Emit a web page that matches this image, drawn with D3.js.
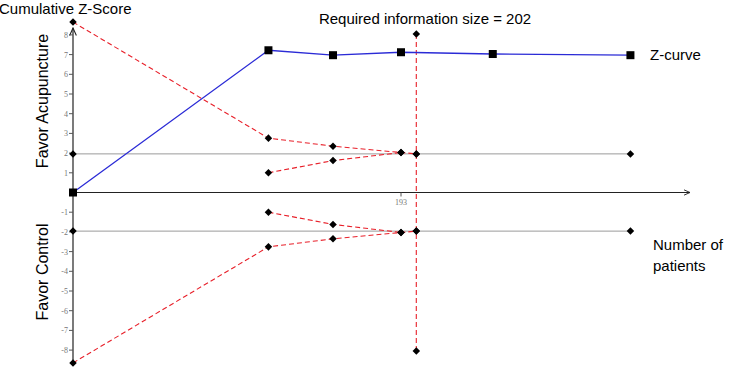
<!DOCTYPE html>
<html>
<head>
<meta charset="utf-8">
<script src="https://cdn.jsdelivr.net/npm/d3@7"></script>
<style>
  body { margin: 0; background: #fff; }
  text { font-family: "Liberation Sans", Arial, sans-serif; }
  .tick-label { font-family: "Liberation Serif", "Times New Roman", serif; font-size: 8px; fill: #777; }
</style>
</head>
<body>
<div id="chart"></div>
<script>
// patients at each look, and the required information size
const patients = [0, 115, 153, 193, 247, 328];
const ris = 202;
const zCurve = [0, 7.22, 6.97, 7.12, 7.03, 6.97];

// O'Brien-Fleming style monitoring boundaries
const boundaryN = [0, 115, 153, 193, 202];
const upperBoundary = [8.65, 2.76, 2.35, 2.03, 1.96];
const futilityN = [115, 153, 193];
const futilityUpper = [1.0, 1.62, 2.03];
const conventionalN = [0, 202, 328];
const conventional = 1.96;
const risTop = 8.05;
const yTicks = [-8, -7, -6, -5, -4, -3, -2, -1, 1, 2, 3, 4, 5, 6, 7, 8];
const xTicks = [193];

const width = 734;
const height = 377;

const svg = d3.select("#chart")
  .append("svg")
  .attr("width", width)
  .attr("height", height);

const x = d3.scaleLinear().domain([0, 193]).range([73, 401]);
const y = d3.scaleLinear().domain([-9, 9]).range([369.8, 15.2]);

const defs = svg.append("defs");
defs.append("marker")
  .attr("id", "arrow")
  .attr("viewBox", "0 0 10 10")
  .attr("refX", 9).attr("refY", 5)
  .attr("markerWidth", 7).attr("markerHeight", 7)
  .attr("orient", "auto")
  .append("path")
  .attr("d", "M0,1 L9,5 L0,9")
  .attr("fill", "none")
  .attr("stroke", "#222")
  .attr("stroke-width", 1.3);

// conventional ±1.96 lines
[conventional, -conventional].forEach(v => {
  svg.append("line")
    .attr("x1", x(0)).attr("x2", x(328))
    .attr("y1", y(v)).attr("y2", y(v))
    .attr("stroke", "#9a9a9a")
    .attr("stroke-width", 1);
});

// axes
svg.append("line")
  .attr("x1", x(0)).attr("x2", 690)
  .attr("y1", y(0)).attr("y2", y(0))
  .attr("stroke", "#222").attr("stroke-width", 1)
  .attr("marker-end", "url(#arrow)");

svg.append("line")
  .attr("x1", x(0)).attr("x2", x(0))
  .attr("y1", y(-8.5)).attr("y2", 28)
  .attr("stroke", "#222").attr("stroke-width", 1.2)
  .attr("marker-end", "url(#arrow)");

const yt = svg.append("g");
yTicks.forEach(t => {
  yt.append("line")
    .attr("x1", x(0) - 4).attr("x2", x(0))
    .attr("y1", y(t)).attr("y2", y(t))
    .attr("stroke", "#555");
  yt.append("text")
    .attr("class", "tick-label")
    .attr("x", x(0) - 5).attr("y", y(t) + 3)
    .attr("text-anchor", "end")
    .text(t);
});

xTicks.forEach(t => {
  svg.append("line")
    .attr("x1", x(t)).attr("x2", x(t))
    .attr("y1", y(0)).attr("y2", y(0) + 4)
    .attr("stroke", "#555");
  svg.append("text")
    .attr("class", "tick-label")
    .attr("x", x(t)).attr("y", y(0) + 12)
    .attr("text-anchor", "middle")
    .text(t);
});

const line = d3.line().x(d => x(d[0])).y(d => y(d[1]));
const dashed = (pts) => svg.append("path")
  .datum(pts)
  .attr("d", line)
  .attr("fill", "none")
  .attr("stroke", "#e8202a")
  .attr("stroke-width", 1.1)
  .attr("stroke-dasharray", "5,3");

const upperPts = boundaryN.map((n, i) => [n, upperBoundary[i]]);
const lowerPts = boundaryN.map((n, i) => [n, -upperBoundary[i]]);
const futUpPts = futilityN.map((n, i) => [n, futilityUpper[i]]);
const futLowPts = futilityN.map((n, i) => [n, -futilityUpper[i]]);

dashed(upperPts);
dashed(lowerPts);
dashed(futUpPts);
dashed(futLowPts);
dashed([[ris, risTop], [ris, -risTop]]);

// z-curve
const zPts = patients.map((n, i) => [n, zCurve[i]]);
svg.append("path")
  .datum(zPts)
  .attr("d", line)
  .attr("fill", "none")
  .attr("stroke", "#2b2bd6")
  .attr("stroke-width", 1.3);

// diamonds
const diamond = d3.symbol().type(d3.symbolDiamond2).size(36);
const diamondPts = []
  .concat(upperPts, lowerPts, futUpPts, futLowPts)
  .concat(conventionalN.map(n => [n, conventional]))
  .concat(conventionalN.map(n => [n, -conventional]))
  .concat([[ris, risTop], [ris, -risTop]]);

svg.append("g")
  .selectAll("path")
  .data(diamondPts)
  .join("path")
  .attr("d", diamond)
  .attr("transform", d => `translate(${x(d[0])},${y(d[1])})`)
  .attr("fill", "#000");

svg.append("g")
  .selectAll("rect")
  .data(zPts)
  .join("rect")
  .attr("x", d => x(d[0]) - 4)
  .attr("y", d => y(d[1]) - 4)
  .attr("width", 8)
  .attr("height", 8)
  .attr("fill", "#000");

// labels
svg.append("text")
  .attr("x", -1).attr("y", 14)
  .attr("font-size", 15)
  .text("Cumulative Z-Score");

svg.append("text")
  .attr("x", 425).attr("y", 24)
  .attr("text-anchor", "middle")
  .attr("font-size", 15)
  .text("Required information size = 202");

svg.append("text")
  .attr("x", 650).attr("y", 60)
  .attr("font-size", 15)
  .text("Z-curve");

svg.append("text")
  .attr("x", 653).attr("y", 250)
  .attr("font-size", 15)
  .text("Number of");
svg.append("text")
  .attr("x", 653).attr("y", 271)
  .attr("font-size", 15)
  .text("patients");

svg.append("text")
  .attr("transform", "translate(48,101) rotate(-90)")
  .attr("text-anchor", "middle")
  .attr("font-size", 16)
  .text("Favor Acupuncture");

svg.append("text")
  .attr("transform", "translate(48,272) rotate(-90)")
  .attr("text-anchor", "middle")
  .attr("font-size", 16)
  .text("Favor Control");
</script>
</body>
</html>
